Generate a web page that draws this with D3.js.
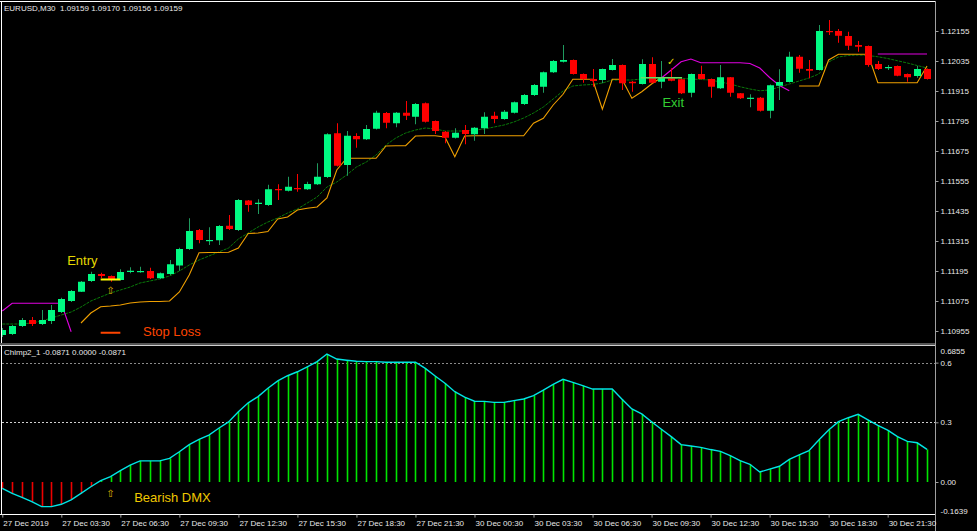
<!DOCTYPE html>
<html><head><meta charset="utf-8">
<script src="https://cdn.jsdelivr.net/npm/d3@7"></script>
<style>html,body{margin:0;padding:0;background:#000;overflow:hidden}svg{display:block}</style>
</head><body>
<svg id="c" width="977" height="531"></svg>
<script>
// ---------- data ----------
const chartTitle = "EURUSD,M30  1.09159 1.09170 1.09156 1.09159";
const oscTitle = "Chimp2_1 -0.0871 0.0000 -0.0871";

const open = [1.10939,1.10943,1.10975,1.10999,1.10983,1.10995,1.11031,1.11075,1.11112,1.11155,
1.11183,1.11175,1.11159,1.11191,1.11191,1.11195,1.11166,1.11183,1.11217,1.11283,
1.11359,1.11317,1.11318,1.11376,1.11359,1.11477,1.11463,1.11459,1.11523,1.11516,
1.11527,1.11522,1.11542,1.11571,1.11746,1.11619,1.11735,1.11722,1.11764,1.11827,
1.11786,1.11828,1.11812,1.11866,1.11795,1.11752,1.11728,1.11759,1.11742,1.11766,
1.11816,1.11803,1.11828,1.11863,1.11899,1.11932,1.11990,1.12032,1.12039,1.11983,
1.11963,1.11959,1.11999,1.12019,1.11952,1.11943,1.12023,1.11952,1.11966,1.11962,
1.11908,1.11983,1.11963,1.11926,1.11970,1.11906,1.11884,1.11888,1.11836,1.11936,
1.11951,1.12052,1.12003,1.11999,1.12155,1.12155,1.12135,1.12099,1.12095,1.12023,
1.12007,1.12015,1.11983,1.11975,1.12003];
const high = [1.10967,1.10979,1.11007,1.11011,1.11039,1.11059,1.11088,1.11119,1.11155,1.11192,
1.11188,1.11177,1.11202,1.11210,1.11212,1.11208,1.11189,1.11239,1.11288,1.11406,
1.11363,1.11370,1.11379,1.11419,1.11483,1.11479,1.11482,1.11540,1.11542,1.11572,
1.11583,1.11552,1.11626,1.11746,1.11786,1.11755,1.11746,1.11779,1.11836,1.11831,
1.11831,1.11875,1.11867,1.11869,1.11797,1.11755,1.11766,1.11779,1.11771,1.11830,
1.11832,1.11839,1.11873,1.11903,1.11943,1.11993,1.12039,1.12099,1.12041,1.11985,
1.12003,1.12005,1.12043,1.12021,1.11955,1.12042,1.12050,1.12035,1.12006,1.11965,
1.11985,1.12016,1.11965,1.12019,1.11971,1.11907,1.11902,1.11891,1.11941,1.12002,
1.12072,1.12059,1.12039,1.12179,1.12199,1.12163,1.12152,1.12115,1.12097,1.12035,
1.12019,1.12017,1.11985,1.12015,1.12005];
const low = [1.10931,1.10939,1.10971,1.10975,1.10979,1.10983,1.11027,1.11071,1.11111,1.11151,
1.11167,1.11152,1.11157,1.11186,1.11188,1.11163,1.11163,1.11179,1.11196,1.11279,
1.11306,1.11299,1.11299,1.11359,1.11355,1.11432,1.11423,1.11455,1.11479,1.11513,
1.11512,1.11519,1.11539,1.11567,1.11613,1.11576,1.11688,1.11719,1.11761,1.11766,
1.11770,1.11799,1.11782,1.11789,1.11743,1.11706,1.11725,1.11702,1.11716,1.11743,
1.11786,1.11800,1.11825,1.11859,1.11895,1.11908,1.11987,1.12029,1.11981,1.11948,
1.11932,1.11946,1.11997,1.11919,1.11912,1.11941,1.11946,1.11926,1.11954,1.11903,
1.11890,1.11961,1.11888,1.11923,1.11892,1.11883,1.11850,1.11833,1.11806,1.11879,
1.11949,1.11988,1.11966,1.11997,1.12139,1.12108,1.12079,1.12072,1.12012,1.11999,
1.11999,1.11974,1.11952,1.11968,1.11961];
const close = [1.10959,1.10975,1.10999,1.10983,1.10999,1.11039,1.11083,1.11115,1.11152,1.11183,
1.11175,1.11162,1.11191,1.11196,1.11195,1.11166,1.11186,1.11222,1.11283,1.11355,
1.11319,1.11319,1.11375,1.11363,1.11479,1.11459,1.11468,1.11522,1.11518,1.11532,
1.11522,1.11543,1.11572,1.11742,1.11616,1.11736,1.11722,1.11763,1.11828,1.11788,
1.11828,1.11816,1.11863,1.11792,1.11755,1.11728,1.11748,1.11743,1.11768,1.11812,
1.11803,1.11832,1.11870,1.11899,1.11939,1.11990,1.12035,1.12039,1.11983,1.11963,
1.11955,1.12003,1.12019,1.11946,1.11946,1.12023,1.11948,1.11966,1.11956,1.11906,
1.11983,1.11963,1.11932,1.11970,1.11908,1.11886,1.11888,1.11836,1.11938,1.11951,
1.12052,1.12004,1.11996,1.12155,1.12151,1.12136,1.12096,1.12092,1.12019,1.12003,
1.12011,1.11976,1.11970,1.12003,1.11963];

const maLine = [1.10983,1.10983,1.10983,1.10987,1.10995,1.11007,1.11019,1.11031,1.11051,1.11075,
1.11091,1.11107,1.11119,1.11131,1.11147,1.11155,1.11163,1.11175,1.11195,1.11219,
1.11239,1.11255,1.11271,1.11287,1.11323,1.11347,1.11371,1.11391,1.11407,1.11427,
1.11443,1.11467,1.11491,1.11531,1.11551,1.11579,1.11611,1.11631,1.11659,1.11699,
1.11727,1.11747,1.11759,1.11767,1.11763,1.11755,1.11755,1.11755,1.11759,1.11763,
1.11771,1.11779,1.11791,1.11807,1.11827,1.11851,1.11883,1.11915,1.11935,1.11939,
1.11941,1.11947,1.11959,1.11959,1.11959,1.11963,1.11965,1.11966,1.11966,1.11966,
1.11963,1.11961,1.11959,1.11951,1.11943,1.11932,1.11923,1.11916,1.11919,1.11931,
1.11943,1.11955,1.11967,1.11983,1.12031,1.12051,1.12057,1.12059,1.12057,1.12052,
1.12045,1.12036,1.12027,1.12017,1.12007];

const stopLine = [null,null,null,null,null,null,null,null,1.10987,1.11027,
1.11052,1.11055,1.11059,1.11067,1.11071,1.11073,1.11073,1.11075,1.11111,1.11179,
1.11268,1.11269,1.11269,1.11270,1.11287,1.11345,1.11347,1.11353,1.11403,1.11411,
1.11439,1.11446,1.11451,1.11487,1.11599,1.11646,1.11646,1.11646,1.11646,1.11695,
1.11696,1.11696,1.11735,1.11736,1.11736,1.11731,1.11652,1.11735,1.11736,1.11736,
1.11736,1.11736,1.11736,1.11736,1.11786,1.11806,1.11859,1.11902,1.11962,1.11962,
1.11962,1.11842,1.11962,1.11962,1.11886,1.11912,1.11943,1.11969,null,null,
null,null,null,null,null,null,null,null,null,null,
null,1.11935,1.11935,1.11935,1.12039,1.12062,1.12062,1.12062,1.12062,1.11948,
1.11948,1.11948,1.11948,1.11948,1.12015];

const trailLine = [1.11035,1.11066,1.11066,1.11066,1.11066,1.11066,1.11066,1.10952,null,null,
null,null,null,null,null,null,null,null,null,null,
null,null,null,null,null,null,null,null,null,null,
null,null,null,null,null,null,null,null,null,null,
null,null,null,null,null,null,null,null,null,null,
null,null,null,null,null,null,null,null,null,null,
null,null,null,null,null,null,null,1.11967,1.11999,1.12032,
1.12043,1.12028,1.12028,1.12028,1.12028,1.12028,1.12025,1.12007,1.11969,1.11937,
1.11916,null,null,null,null,null,null,null,null,1.12063,
1.12063,1.12063,1.12063,1.12063,1.12063];

const osc = [-0.032,-0.057,-0.077,-0.099,-0.124,-0.124,-0.112,-0.090,-0.057,-0.024,
0.007,0.027,0.057,0.085,0.106,0.106,0.106,0.119,0.152,0.188,
0.214,0.236,0.270,0.302,0.353,0.398,0.429,0.471,0.508,0.534,
0.554,0.579,0.605,0.643,0.618,0.612,0.607,0.605,0.605,0.602,
0.602,0.602,0.602,0.571,0.533,0.496,0.454,0.426,0.406,0.405,
0.400,0.400,0.409,0.417,0.434,0.462,0.491,0.516,0.501,0.484,
0.467,0.467,0.467,0.416,0.367,0.342,0.303,0.265,0.228,0.188,
0.181,0.174,0.163,0.154,0.132,0.107,0.089,0.050,0.065,0.079,
0.114,0.136,0.157,0.211,0.261,0.303,0.323,0.340,0.312,0.285,
0.261,0.228,0.204,0.197,0.164];

const priceTicks = [1.12155,1.12035,1.11915,1.11795,1.11675,1.11555,1.11435,1.11315,1.11195,1.11075,1.10955];
const oscTicks = [0.6855,0.6,0.3,0.0,-0.1639];
const oscTickLabels = ["0.6855","0.6","0.3","0.00","-0.1639"];
const oscLevels = [0.6,0.3];
const xTickCats = ["27 Dec 00:30","27 Dec 03:30","27 Dec 06:30","27 Dec 09:30","27 Dec 12:30","27 Dec 15:30","27 Dec 18:30","27 Dec 21:30",
"30 Dec 00:30","30 Dec 03:30","30 Dec 06:30","30 Dec 09:30","30 Dec 12:30","30 Dec 15:30","30 Dec 18:30","30 Dec 21:30"];
const xTickLabels = ["27 Dec 2019","27 Dec 03:30","27 Dec 06:30","27 Dec 09:30","27 Dec 12:30","27 Dec 15:30","27 Dec 18:30","27 Dec 21:30",
"30 Dec 00:30","30 Dec 03:30","30 Dec 06:30","30 Dec 09:30","30 Dec 12:30","30 Dec 15:30","30 Dec 18:30","30 Dec 21:30"];

// bar time categories (M30): 27 Dec 00:30..23:30, 30 Dec 00:00..23:30
const categories = [];
(function(){
  const pad = n => String(n).padStart(2,"0");
  for (let m = 30; m < 24*60; m += 30) categories.push("27 Dec " + pad(Math.floor(m/60)) + ":" + pad(m%60));
  for (let m = 0; m < 24*60; m += 30) categories.push("30 Dec " + pad(Math.floor(m/60)) + ":" + pad(m%60));
})();

// ---------- layout ----------
const W = 977, H = 531;
const plotRight = 935;
const mainTop = 0, mainBottom = 343;
const oscTop = 345.6, oscBottom = 514.6;

const svg = d3.select("#c");
svg.append("rect").attr("width", W).attr("height", H).attr("fill", "#000");

const x = d3.scalePoint().domain(categories).range([2.3, 927]);
const y = d3.scaleLinear().domain([1.12279 - 343/25000, 1.12279]).range([mainBottom, mainTop]);
const yo = d3.scaleLinear().domain([-0.1639, 0.6855]).range([oscBottom, oscTop]);

const bars = categories.map((c, i) => ({c, o: open[i], h: high[i], l: low[i], cl: close[i], ma: maLine[i], st: stopLine[i], tr: trailLine[i], v: osc[i]}));

const FONT = "'Liberation Sans', Arial, sans-serif";

// ---------- main panel ----------
const main = svg.append("g");
main.append("defs").append("clipPath").attr("id","mclip").append("rect")
  .attr("x",1).attr("y",2).attr("width",plotRight-1).attr("height",mainBottom-2);
const mg = main.append("g").attr("clip-path","url(#mclip)");

// MA line (dark green, dotted look)
mg.append("path").datum(bars)
  .attr("d", d3.line().x(d => x(d.c)).y(d => y(d.ma)))
  .attr("fill","none").attr("stroke","#0a7a0a").attr("stroke-width",1).attr("stroke-dasharray","3,1");

// orange stop line
mg.append("path").datum(bars)
  .attr("d", d3.line().defined(d => d.st != null).x(d => x(d.c)).y(d => y(d.st)))
  .attr("fill","none").attr("stroke","#f0a000").attr("stroke-width",1.1);

// magenta trail line
mg.append("path").datum(bars)
  .attr("d", d3.line().defined(d => d.tr != null).x(d => x(d.c)).y(d => y(d.tr)))
  .attr("fill","none").attr("stroke","#e000e0").attr("stroke-width",1.1);

// candles
const bull = "#00fa82", bear = "#ff0000", bullWick = "#1f9a5e";
const cg = mg.append("g");
cg.selectAll("line.wick").data(bars).join("line")
  .attr("x1", d => Math.round(x(d.c)) + 0.5).attr("x2", d => Math.round(x(d.c)) + 0.5)
  .attr("y1", d => y(d.h)).attr("y2", d => y(d.l))
  .attr("stroke", d => d.cl >= d.o ? bullWick : bear).attr("stroke-width", 1);
const bw = 7;
cg.selectAll("rect.body").data(bars).join("rect")
  .attr("x", d => Math.round(x(d.c)) + 0.5 - bw/2)
  .attr("width", bw)
  .attr("y", d => y(Math.max(d.o, d.cl)))
  .attr("height", d => Math.max(1.2, Math.abs(y(d.o) - y(d.cl))))
  .attr("fill", d => d.cl >= d.o ? bull : bear);

// annotations (anchored to data coordinates)
const ci = i => x(categories[i]);
mg.append("line").attr("x1", ci(10)).attr("x2", ci(12)).attr("y1", y(1.11161)).attr("y2", y(1.11161))
  .attr("stroke","#ffff00").attr("stroke-width",2);
mg.append("line").attr("x1", ci(65)-1).attr("x2", ci(69)+1).attr("y1", y(1.11968)).attr("y2", y(1.11968))
  .attr("stroke","#66dd66").attr("stroke-width",1.3);
mg.append("line").attr("x1", ci(10)).attr("x2", ci(12)).attr("y1", y(1.10948)).attr("y2", y(1.10948))
  .attr("stroke","#ff4500").attr("stroke-width",2);

mg.append("text").attr("x", ci(7) - 4).attr("y", y(1.11219)).text("Entry")
  .attr("fill","#e6d800").attr("font-family",FONT).attr("font-size",13);
mg.append("text").attr("x", ci(14) + 3).attr("y", y(1.10935)).text("Stop Loss")
  .attr("fill","#ff4500").attr("font-family",FONT).attr("font-size",13);
mg.append("text").attr("x", ci(67) + 1).attr("y", y(1.11851)).text("Exit")
  .attr("fill","#32cd32").attr("font-family",FONT).attr("font-size",13);
mg.append("text").attr("x", ci(11)).attr("y", y(1.11119)).text("\u21E7")
  .attr("fill","#e0b000").attr("font-family","'DejaVu Sans'").attr("font-size",10)
  .attr("text-anchor","middle").attr("dominant-baseline","central");
mg.append("text").attr("x", ci(68)).attr("y", y(1.12035)).text("\u2713")
  .attr("fill","#e6d800").attr("font-family","'DejaVu Sans'").attr("font-size",10)
  .attr("text-anchor","middle").attr("dominant-baseline","central");

// title
svg.append("text").attr("x",4).attr("y",10.5).text(chartTitle)
  .attr("fill","#e8e8e8").attr("font-family",FONT).attr("font-size",8)
  .style("white-space","pre");

// ---------- oscillator panel ----------
const og = svg.append("g");
og.selectAll("line.lvl").data(oscLevels).join("line")
  .attr("x1",2).attr("x2",plotRight).attr("y1", d => Math.round(yo(d))+0.5).attr("y2", d => Math.round(yo(d))+0.5)
  .attr("stroke", (d,i) => i === 0 ? "#8a8a8a" : "#d0d0d0").attr("stroke-width",1).attr("stroke-dasharray","2,2");

og.selectAll("line.hist").data(bars).join("line")
  .attr("x1", d => Math.round(x(d.c)) + 0.5).attr("x2", d => Math.round(x(d.c)) + 0.5)
  .attr("y1", yo(0)).attr("y2", d => yo(d.v))
  .attr("stroke", d => d.v < 0 ? "#ee0000" : "#00e600").attr("stroke-width", 1.6);

og.append("path").datum(bars)
  .attr("d", d3.line().x(d => x(d.c)).y(d => yo(d.v)))
  .attr("fill","none").attr("stroke","#00e5e5").attr("stroke-width",1.4);

og.append("text").attr("x", ci(11)).attr("y", yo(-0.058)).text("\u21E7")
  .attr("fill","#e0b000").attr("font-family","'DejaVu Sans'").attr("font-size",10)
  .attr("text-anchor","middle").attr("dominant-baseline","central");
og.append("text").attr("x", ci(13) + 4).attr("y", yo(-0.099)).text("Bearish DMX")
  .attr("fill","#f0c800").attr("font-family",FONT).attr("font-size",13);

svg.append("text").attr("x",4).attr("y",354.5).text(oscTitle)
  .attr("fill","#e8e8e8").attr("font-family",FONT).attr("font-size",8);

// ---------- frames ----------
const frame = svg.append("g").attr("stroke-width",1).attr("fill","none");
frame.append("line").attr("x1",0).attr("x2",plotRight).attr("y1",1.5).attr("y2",1.5).attr("stroke","#ffffff");
frame.append("line").attr("x1",1.5).attr("x2",1.5).attr("y1",1).attr("y2",oscBottom).attr("stroke","#ffffff");
frame.append("rect").attr("x",0).attr("y",mainBottom).attr("width",plotRight).attr("height",2.2).attr("fill","#555").attr("stroke","none");
frame.append("line").attr("x1",0).attr("x2",plotRight+1).attr("y1",345.5).attr("y2",345.5).attr("stroke","#d0d0d0");
frame.append("line").attr("x1",0).attr("x2",plotRight+1).attr("y1",514.5).attr("y2",514.5).attr("stroke","#ffffff");
frame.append("line").attr("x1",plotRight+0.5).attr("x2",plotRight+0.5).attr("y1",1).attr("y2",531).attr("stroke","#a0a0a0");

// ---------- axes ----------
const axisStyle = g => {
  g.select(".domain").remove();
  g.selectAll("line").attr("stroke","#a0a0a0");
  g.selectAll("text").attr("fill","#e8e8e8").attr("font-family",FONT).attr("font-size",8);
};
svg.append("g").attr("transform",`translate(${plotRight+0.5},0)`)
  .call(d3.axisRight(y).tickValues(priceTicks).tickFormat(d3.format(".5f")).tickSize(3).tickPadding(2))
  .call(axisStyle);

const oa = svg.append("g").attr("transform",`translate(${plotRight+0.5},0)`)
  .call(d3.axisRight(yo).tickValues(oscTicks).tickFormat((d,i) => oscTickLabels[i]).tickSize(3).tickPadding(2))
  .call(axisStyle);
oa.selectAll(".tick").filter(d => d === 0.6855).select("text").attr("dy","0.95em");
oa.selectAll(".tick").filter(d => d === -0.1639).select("text").attr("dy","-0.1em");
oa.selectAll(".tick").filter(d => d === 0.6855 || d === -0.1639).select("line").remove();

const xa = svg.append("g").attr("transform",`translate(0,${oscBottom})`)
  .call(d3.axisBottom(x).tickValues(xTickCats).tickFormat((d,i) => xTickLabels[i]).tickSize(3).tickPadding(2))
  .call(axisStyle);
xa.selectAll(".tick text").attr("text-anchor","start").attr("dx", 0.5).attr("dy","0.8em");
</script>
</body></html>
